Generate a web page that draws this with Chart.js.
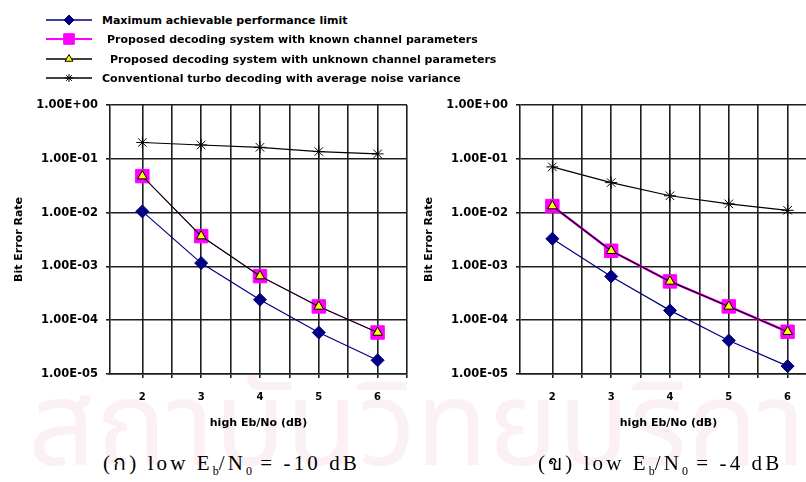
<!DOCTYPE html>
<html>
<head>
<meta charset="utf-8">
<title>BER vs high Eb/No</title>
<script src="https://cdn.jsdelivr.net/npm/chart.js@4.4.1/dist/chart.umd.min.js"></script>
<style>
    html, body { margin: 0; padding: 0; background: #fff; }
    body { position: relative; width: 806px; height: 482px; overflow: hidden; font-family: "DejaVu Sans", sans-serif; }
    .watermark { position: absolute; left: 28px; top: 340px; font-size: 118px; color: #fbf1f5; white-space: nowrap; font-family: "Noto Sans Thai", "Noto Sans", sans-serif; }
    .chart-box { position: absolute; top: 90px; }
    #boxLow10 { left: 0; }
    #boxLow4 { left: 410px; }
    .legend-row { position: absolute; left: 44px; height: 16px; display: flex; align-items: center; white-space: nowrap; font-size: 11px; font-weight: bold; color: #000; }
    .legend-row canvas { margin-right: 8px; }
    .caption { position: absolute; top: 446px; font-family: "Liberation Serif", serif; font-size: 21px; letter-spacing: 3.1px; color: #000; white-space: nowrap; }
    .caption sub { font-size: 12px; letter-spacing: 0; }
</style>
</head>
<body>
<div class="watermark">สถาบันวิทยบริการ</div>
<div id="legend"></div>
<div class="chart-box" id="boxLow10"><canvas id="chartLow10" width="420" height="350"></canvas></div>
<div class="chart-box" id="boxLow4"><canvas id="chartLow4" width="420" height="350"></canvas></div>
<div class="caption" style="left:103px">(ก) low E<sub>b</sub>/N<sub>0</sub> = -10 dB</div>
<div class="caption" style="left:538px">(ข) low E<sub>b</sub>/N<sub>0</sub> = -4 dB</div>

<script>
// x: high Eb/No in dB
const ebnoHigh = [2, 3, 4, 5, 6];
const xGridValues = [2, 2.5, 3, 3.5, 4, 4.5, 5, 5.5, 6, 6.5];
const xTickLabels = ['2', '3', '4', '5', '6'];

// y: bit error rate, one tick per decade
const yTickValues = [1, 1e-1, 1e-2, 1e-3, 1e-4, 1e-5];
const yTickLabels = ['1.00E+00', '1.00E-01', '1.00E-02', '1.00E-03', '1.00E-04', '1.00E-05'];

const seriesNames = [
    'Maximum achievable performance limit',
    'Proposed decoding system with known channel parameters',
    'Proposed decoding system with unknown channel parameters',
    'Conventional turbo decoding with average noise variance'
];

// (a) low Eb/N0 = -10 dB
const maxLimit10 = [1.05e-2, 1.15e-3, 2.4e-4, 5.9e-5, 1.8e-5];
const knownParams10 = [4.75e-2, 3.65e-3, 6.6e-4, 1.8e-4, 5.9e-5];
const unknownParams10 = [4.75e-2, 3.65e-3, 6.6e-4, 1.8e-4, 5.9e-5];
const conventional10 = [2.0e-1, 1.8e-1, 1.63e-1, 1.36e-1, 1.23e-1];

// (b) low Eb/N0 = -4 dB
const maxLimit4 = [3.26e-3, 6.5e-4, 1.52e-4, 4.2e-5, 1.4e-5];
const knownParams4 = [1.32e-2, 1.95e-3, 5.25e-4, 1.8e-4, 6.1e-5];
const unknownParams4 = [1.32e-2, 1.95e-3, 5.25e-4, 1.8e-4, 6.1e-5];
const conventional4 = [7.05e-2, 3.6e-2, 2.05e-2, 1.45e-2, 1.1e-2];

// Line / marker look of each series (same order as seriesNames)
const seriesStyles = [
    { color: '#000080', fill: '#000080', pointStyle: 'rectRot', radius: 6.5, legendRadius: 5, order: 1 },
    { color: '#ff00ff', fill: '#ff00ff', pointStyle: 'rect', radius: 9.5, legendRadius: 7.5, order: 3 },
    { color: '#000000', fill: '#ffff00', pointStyle: 'triangle', radius: 5.5, legendRadius: 4.5, order: 2 },
    { color: '#000000', fill: '#000000', pointStyle: 'star', radius: 6, legendRadius: 4, order: 4 }
];

const gridColor = '#1e1e1e';
const tickFont = { family: 'DejaVu Sans', size: 11.5, weight: 'bold' };
const titleFont = { family: 'DejaVu Sans', size: 11, weight: 'bold' };

function toPoints(values) {
    return values.map((v, i) => ({ x: ebnoHigh[i], y: v }));
}

function buildDataset(index, values, magentaWidth) {
    const s = seriesStyles[index];
    return {
        label: seriesNames[index],
        data: toPoints(values),
        borderColor: s.color,
        borderWidth: index === 1 ? magentaWidth : 1.2,
        backgroundColor: s.fill,
        pointStyle: s.pointStyle,
        pointRadius: s.radius,
        pointHoverRadius: s.radius,
        pointBackgroundColor: s.fill,
        pointBorderColor: index === 1 ? '#ff00ff' : (index === 0 ? '#000080' : '#000000'),
        pointBorderWidth: 1,
        tension: 0,
        order: s.order
    };
}

function createBerChart(canvasId, seriesValues, magentaWidth, rightPad) {
    const ctx = document.getElementById(canvasId).getContext('2d');
    return new Chart(ctx, {
        type: 'line',
        data: {
            datasets: seriesValues.map((vals, i) => buildDataset(i, vals, magentaWidth))
        },
        options: {
            responsive: false,
            animation: false,
            events: [],
            layout: { padding: { top: 10, right: rightPad, bottom: 6, left: 0 } },
            plugins: {
                legend: { display: false },
                tooltip: { enabled: false }
            },
            scales: {
                x: {
                    type: 'linear',
                    min: 1.45,
                    max: 6.5,
                    afterBuildTicks: scale => { scale.ticks = xGridValues.map(v => ({ value: v })); },
                    afterFit: scale => { scale.height = 60; },
                    grid: { color: gridColor, lineWidth: 1.6, tickLength: 4 },
                    border: { display: true, color: gridColor, width: 1.6 },
                    ticks: {
                        autoSkip: false,
                        maxRotation: 0,
                        padding: 13,
                        color: '#000',
                        font: { family: 'DejaVu Sans', size: 10, weight: 'bold' },
                        callback: value => {
                            const i = ebnoHigh.indexOf(value);
                            return i >= 0 ? xTickLabels[i] : '';
                        }
                    },
                    title: {
                        display: true,
                        text: 'high Eb/No (dB)',
                        color: '#000',
                        font: titleFont,
                        padding: { top: 0, bottom: 4 }
                    }
                },
                y: {
                    type: 'logarithmic',
                    min: 1e-5,
                    max: 1,
                    afterBuildTicks: scale => { scale.ticks = yTickValues.map(v => ({ value: v })); },
                    afterFit: scale => { scale.width = 110; },
                    grid: { color: gridColor, lineWidth: 1.6, tickLength: 4 },
                    border: { display: true, color: gridColor, width: 1.6 },
                    ticks: {
                        autoSkip: false,
                        padding: 8,
                        color: '#000',
                        font: tickFont,
                        callback: value => {
                            const i = yTickValues.findIndex(t => Math.abs(Math.log10(t) - Math.log10(value)) < 1e-6);
                            return i >= 0 ? yTickLabels[i] : '';
                        }
                    },
                    title: {
                        display: true,
                        text: 'Bit Error Rate',
                        color: '#000',
                        font: titleFont,
                        padding: { top: 13, bottom: 0 }
                    }
                }
            }
        }
    });
}

// Shared legend above both plots, markers drawn with Chart.js' own point helper
function buildLegend() {
    const holder = document.getElementById('legend');
    const rowTops = [12, 31, 51, 70];
    const textShift = [0, 5, 8, 0];
    seriesNames.forEach((name, i) => {
        const s = seriesStyles[i];
        const row = document.createElement('div');
        row.className = 'legend-row';
        row.style.top = rowTops[i] + 'px';

        const icon = document.createElement('canvas');
        icon.width = 50;
        icon.height = 16;
        const c = icon.getContext('2d');
        c.strokeStyle = s.color;
        c.lineWidth = i === 1 ? 2 : 1.5;
        c.beginPath();
        c.moveTo(2, 8);
        c.lineTo(48, 8);
        c.stroke();
        c.fillStyle = s.fill;
        c.strokeStyle = i === 1 ? '#ff00ff' : s.color;
        c.lineWidth = 1;
        Chart.helpers.drawPoint(c, { pointStyle: s.pointStyle, radius: s.legendRadius, borderWidth: 1, rotation: 0 }, 25, 8);

        const label = document.createElement('span');
        label.textContent = name;
        label.style.marginLeft = textShift[i] + 'px';

        row.appendChild(icon);
        row.appendChild(label);
        holder.appendChild(row);
    });
}

buildLegend();
createBerChart('chartLow10', [maxLimit10, knownParams10, unknownParams10, conventional10], 1, 11);
createBerChart('chartLow4', [maxLimit4, knownParams4, unknownParams4, conventional4], 2.5, 13);
</script>
</body>
</html>
